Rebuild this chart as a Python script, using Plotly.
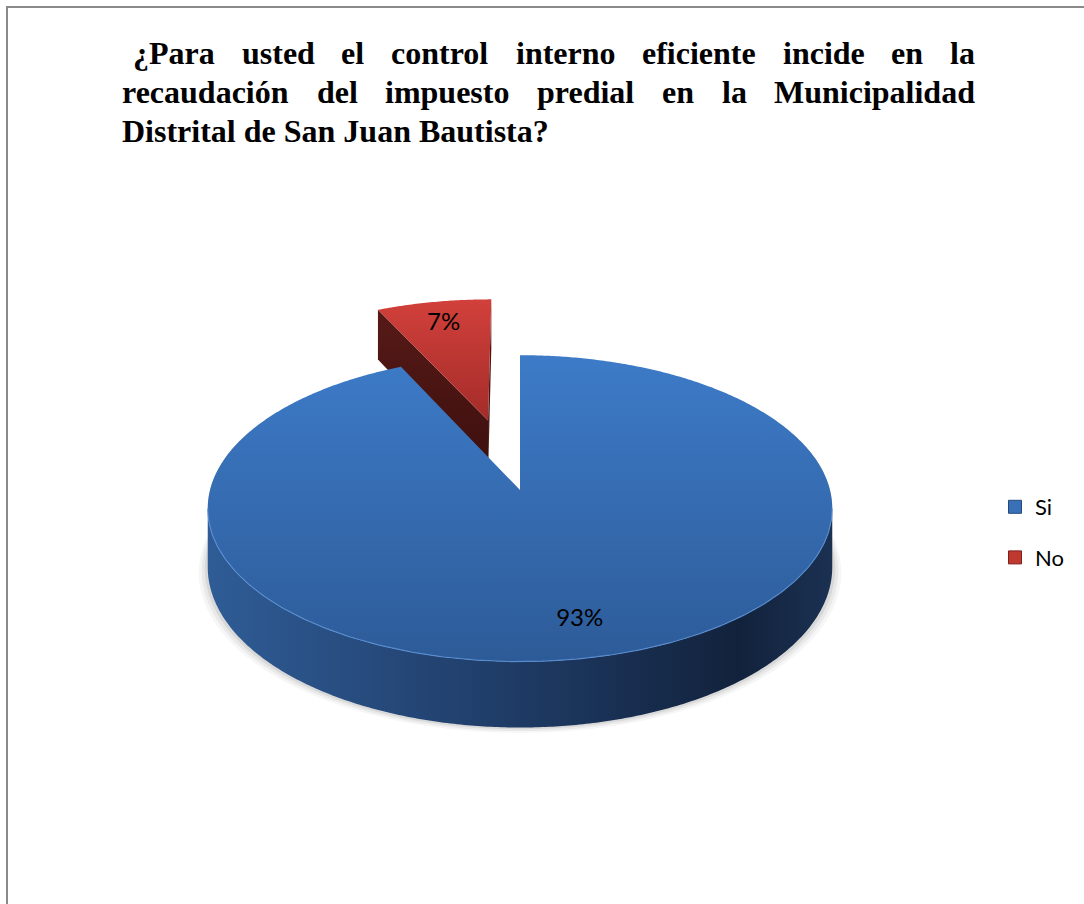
import numpy as np
import plotly.graph_objects as go

# ---------------- data ----------------
LABELS = ["Si", "No"]
VALUES = [93, 7]
PULL = [0.0, 0.5]          # explode fraction of radius
TITLE_LINES = [
    "¿Para usted el control interno eficiente incide en la",
    "recaudación del impuesto predial en la Municipalidad",
    "Distrital de San Juan Bautista?",
]

# ---------------- layout / style ----------------
W, H = 1084, 904
CX, CY, RX, RY, K, DEPTH = 520, 490, 310, 151, 0.12, 58
LABEL_R = 0.8

TOP_SCALE = {
    "Si": [[0, "#3d7bc8"], [1, "#2d5b98"]],
    "No": [[0, "#d2403b"], [1, "#a32c29"]],
}
WALL_SCALE = {
    "Si": [[0, "#2f5c96"], [0.45, "#203e6a"], [0.85, "#12223c"], [1, "#1b3152"]],
    "No": [[0, "#6a1c1a"], [1, "#3a0f0e"]],
}
FACE_SCALE = {
    "Si": [[0, "#2a5088"], [1, "#1c355c"]],
    "No": [[0, "#561a17"], [1, "#3c0f0e"]],
}
LEGEND_COLOR = {"Si": "#3a70b8", "No": "#c0392f"}
LEGEND_EDGE = {"Si": "#24497d", "No": "#7d1f1c"}

# title typesetting (justified like the source document)
TITLE_SIZE = 32
TITLE_FONT = "Liberation Serif, Times New Roman, serif"
LINE_LEFT = [133, 122, 122]
LINE_RIGHT = 975
LINE_JUSTIFY = [True, True, False]
LINE_Y = [53, 92, 131]
ANN_PAD = 2
# Times New Roman Bold advance widths (1/1000 em)
TNRB = {"¿": 500, "P": 611, "a": 500, "r": 444, "u": 556, "s": 389, "t": 333,
        "e": 444, "d": 556, "l": 278, "c": 444, "o": 500, "n": 556, "i": 278,
        "f": 333, "M": 944, "p": 556, "ó": 500, "m": 833, "D": 722, "S": 556,
        "J": 500, "B": 667, "?": 500, " ": 250}


def word_width(w):
    return sum(TNRB.get(ch, 500) for ch in w) * TITLE_SIZE / 1000.0


def proj(u, v, h):
    u = np.asarray(u, float)
    v = np.asarray(v, float)
    s = 1.0 / (1.0 + K * v)
    return CX + RX * u * s, CY - RY * v * s + DEPTH * h * s


fig = go.Figure()

total = float(sum(VALUES))
fr = np.array(VALUES, float) / total
starts = 2 * np.pi * np.concatenate([[0.0], np.cumsum(fr)[:-1]])
ends = starts + 2 * np.pi * fr
vis1 = np.arccos(-K)
vis2 = 2 * np.pi - vis1
cam = np.array([0.0, -1.0 / K])

radial, walls, tops, rims, labels = [], [], [], [], []
for i, lab in enumerate(LABELS):
    a, b = starts[i], ends[i]
    m = 0.5 * (a + b)
    ou, ov = PULL[i] * np.sin(m), PULL[i] * np.cos(m)
    n = max(int(np.degrees(b - a) * 2), 4)
    th = np.linspace(a, b, n)
    u = np.concatenate([[ou], ou + np.sin(th), [ou]])
    v = np.concatenate([[ov], ov + np.cos(th), [ov]])
    x, y = proj(u, v, 0)
    tops.append((lab, x, y))
    t1, t2 = max(a, vis1), min(b, vis2)
    if t2 > t1:
        th2 = np.linspace(t1, t2, 300)
        uu, vv = ou + np.sin(th2), ov + np.cos(th2)
        xt, yt = proj(uu, vv, 0)
        xb, yb = proj(uu, vv, 1)
        walls.append((lab, np.concatenate([xt, xb[::-1], xt[:1]]),
                      np.concatenate([yt, yb[::-1], yt[:1]])))
        rims.append((lab, xt, yt))
    for ang, sign in ((a, -1), (b, 1)):
        nrm = sign * np.array([np.cos(ang), -np.sin(ang)])
        p = np.array([ou + 0.5 * np.sin(ang), ov + 0.5 * np.cos(ang)])
        if np.dot(cam - p, nrm) > 1e-3:
            pu = [ou, ou + np.sin(ang), ou + np.sin(ang), ou, ou]
            pv = [ov, ov + np.cos(ang), ov + np.cos(ang), ov, ov]
            ph = [0, 0, 1, 1, 0]
            xs = [proj(pu[k], pv[k], ph[k])[0] for k in range(5)]
            ys = [proj(pu[k], pv[k], ph[k])[1] for k in range(5)]
            radial.append((lab, np.array(xs, float), np.array(ys, float)))
    lx, ly = proj(ou + LABEL_R * np.sin(m), ov + LABEL_R * np.cos(m), 0)
    labels.append((f"{round(100 * VALUES[i] / total)}%", float(lx), float(ly)))

# soft shadow around the lower rim of the pie only
th_s = np.linspace(np.radians(70), np.radians(290), 300)
for grow, alpha in ((9, 0.035), (6, 0.05), (3, 0.07)):
    xb, yb = proj(np.sin(th_s), np.cos(th_s), 1)
    xb = CX + (xb - CX) * (1 + grow / RX)
    yb = yb + grow * 0.6
    xt, yt = proj(np.sin(th_s), np.cos(th_s), 0)
    fig.add_trace(go.Scatter(x=np.concatenate([xb, xt[::-1]]),
                             y=np.concatenate([yb, yt[::-1]]),
                             fill="toself", mode="none",
                             fillcolor=f"rgba(0,0,0,{alpha})",
                             showlegend=False, hoverinfo="skip"))

for lab, x, y in radial:
    fig.add_trace(go.Scatter(
        x=x, y=y, fill="toself", mode="none",
        fillgradient=dict(type="vertical", colorscale=FACE_SCALE[lab],
                          start=float(y.min()), stop=float(y.max())),
        showlegend=False, hoverinfo="skip"))

for lab, x, y in tops:
    if lab != "No":
        continue
    fig.add_trace(go.Scatter(
        x=x, y=y, fill="toself", mode="none",
        fillgradient=dict(type="vertical", colorscale=TOP_SCALE[lab],
                          start=float(y.min()), stop=float(y.max())),
        showlegend=False, hoverinfo="skip"))

for lab, x, y in walls:
    fig.add_trace(go.Scatter(
        x=x, y=y, fill="toself", mode="none",
        fillgradient=dict(type="horizontal", colorscale=WALL_SCALE[lab],
                          start=float(x.min()), stop=float(x.max())),
        showlegend=False, hoverinfo="skip"))

for lab, x, y in tops:
    if lab == "No":
        continue
    fig.add_trace(go.Scatter(
        x=x, y=y, fill="toself", mode="none",
        fillgradient=dict(type="vertical", colorscale=TOP_SCALE[lab],
                          start=float(y.min()), stop=float(y.max())),
        showlegend=False, hoverinfo="skip"))

for lab, x, y in rims:
    fig.add_trace(go.Scatter(x=x, y=y, mode="lines",
                             line=dict(color="rgba(90,145,215,0.8)", width=1.2),
                             showlegend=False, hoverinfo="skip"))

fig.add_trace(go.Scatter(
    x=[l[1] for l in labels], y=[l[2] for l in labels],
    text=[l[0] for l in labels], mode="text",
    textfont=dict(family="Lato, Carlito, Calibri, sans-serif", size=24, color="#000000"),
    showlegend=False, hoverinfo="skip"))

for lab in LABELS:
    fig.add_trace(go.Scatter(
        x=[None], y=[None], mode="markers", name=lab, legendgroup=lab,
        marker=dict(symbol="square", size=13, color=LEGEND_COLOR[lab],
                    line=dict(color=LEGEND_EDGE[lab], width=1))))

# title: justified words
annotations = []
for li, line in enumerate(TITLE_LINES):
    if LINE_JUSTIFY[li]:
        words = line.split(" ")
        widths = [word_width(w) for w in words]
        gap = (LINE_RIGHT - LINE_LEFT[li] - sum(widths)) / (len(words) - 1)
        xpos = LINE_LEFT[li]
        items = []
        for w, wd in zip(words, widths):
            items.append((w, xpos))
            xpos += wd + gap
    else:
        items = [(line, LINE_LEFT[li])]
    for wtxt, xp in items:
        annotations.append(dict(
            x=xp - ANN_PAD, y=LINE_Y[li], xref="x", yref="y",
            text=f"<b>{wtxt}</b>", showarrow=False,
            xanchor="left", yanchor="middle",
            font=dict(family=TITLE_FONT, size=TITLE_SIZE, color="#000000")))

fig.update_layout(
    width=W, height=H,
    margin=dict(l=0, r=0, t=0, b=0),
    paper_bgcolor="white", plot_bgcolor="white",
    xaxis=dict(range=[0, W], visible=False, fixedrange=True),
    yaxis=dict(range=[H, 0], visible=False, fixedrange=True),
    showlegend=True,
    legend=dict(x=995 / W, y=1 - 486 / H, xanchor="left", yanchor="top",
                font=dict(family="Lato, Carlito, Calibri, sans-serif", size=22, color="#000000"),
                tracegroupgap=19, bgcolor="rgba(0,0,0,0)"),
    annotations=annotations,
    shapes=[dict(type="rect", xref="x", yref="y", x0=7, y0=7, x1=W + 20, y1=H + 20,
                 line=dict(color="#8a8a8a", width=2), layer="above")],
)

fig.write_html("out.html")
